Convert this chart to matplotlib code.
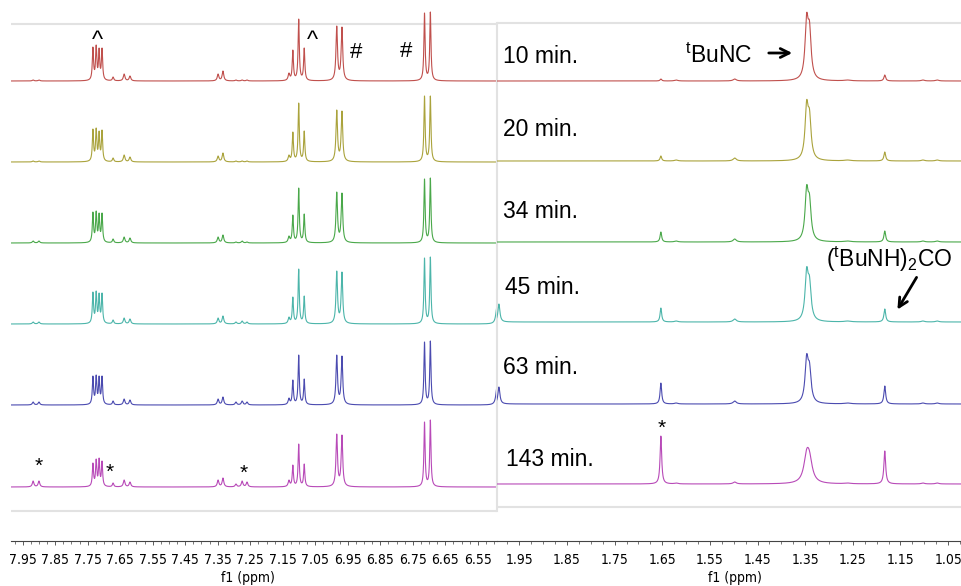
import numpy as np
import matplotlib
matplotlib.use("Agg")
import matplotlib.pyplot as plt
from matplotlib import font_manager as fm

# ---------------- data ----------------
times = ["10 min.", "20 min.", "34 min.", "45 min.", "63 min.", "143 min."]
colors = ["#c0504d", "#aaa33c", "#4aa84a", "#4cb5aa", "#4b4bb0", "#b84ab8"]

# left (aromatic) region: peak positions (ppm), half-widths (ppm)
left_pos = [7.918, 7.900, 7.734, 7.724, 7.715, 7.706, 7.672, 7.638, 7.620,
            7.349, 7.334, 7.294, 7.275, 7.260, 7.131, 7.119, 7.101, 7.084,
            6.984, 6.968, 6.714, 6.696, 6.491]
left_hw = [0.003, 0.003, 0.0022, 0.0022, 0.0022, 0.0022, 0.0025, 0.003, 0.003,
           0.003, 0.003, 0.003, 0.003, 0.003, 0.003, 0.0022, 0.0022, 0.0022,
           0.0028, 0.0028, 0.0022, 0.0022, 0.004]
# apparent peak heights (px) per spectrum
left_h_10 = [1, 1, 34, 36, 33, 33, 4, 7, 5, 7, 10, 1, 1, 1, 8, 31, 62, 33, 55, 54, 68, 69, 0]
left_h_20 = [1, 1, 33, 34, 31, 32, 4, 7, 5, 6, 9, 1, 1, 1, 7, 30, 59, 31, 52, 51, 66, 66, 0]
left_h_34 = [2, 2, 31, 32, 30, 30, 4, 6, 5, 6, 8, 1, 2, 1, 7, 28, 55, 29, 51, 50, 64, 65, 0]
left_h_45 = [2, 2, 32, 33, 31, 31, 4, 6, 5, 6, 8, 2, 3, 2, 7, 27, 55, 28, 53, 52, 66, 67, 19]
left_h_63 = [3, 3, 29, 30, 29, 29, 4, 6, 5, 6, 8, 3, 4, 3, 7, 25, 50, 26, 50, 49, 63, 64, 19]
left_h_143 = [6, 6, 24, 28, 29, 26, 4, 7, 5, 7, 9, 3, 6, 5, 7, 22, 43, 23, 53, 52, 65, 67, 0]
left_heights = [left_h_10, left_h_20, left_h_34, left_h_45, left_h_63, left_h_143]
left_baselines = [81, 162, 243, 324, 405, 487]

# right (aliphatic) region
right_pos = [1.993, 1.653, 1.621, 1.498, 1.347, 1.341, 1.261, 1.183, 1.103, 1.073]
right_hw = [0.0025, 0.002, 0.004, 0.004, 0.004, 0.004, 0.008, 0.0022, 0.004, 0.004]
right_h_10 = [0, 2, 1, 2, 68, 60, 1, 6, 1, 1]
right_h_20 = [0, 5, 1, 3, 61, 52, 1, 9, 1, 1]
right_h_34 = [0, 10, 1, 3, 57, 48, 1, 11, 1, 1]
right_h_45 = [18, 14, 1, 3, 55, 46, 1, 13, 1, 1]
right_h_63 = [17, 21, 1, 3, 50, 42, 1, 18, 1, 1]
right_h_143 = [0, 48, 1, 2, 35, 33, 1, 33, 1, 1]
right_heights = [right_h_10, right_h_20, right_h_34, right_h_45, right_h_63, right_h_143]
right_tbunc_hw = [0.004, 0.004, 0.004, 0.004, 0.004, 0.007]
right_baselines = [81, 161, 242, 322, 404, 484]

left_ticks = [7.95, 7.85, 7.75, 7.65, 7.55, 7.45, 7.35, 7.25, 7.15, 7.05, 6.95, 6.85, 6.75, 6.65, 6.55]
right_ticks = [1.95, 1.85, 1.75, 1.65, 1.55, 1.45, 1.35, 1.25, 1.15, 1.05]


# ---------------- fonts ----------------
sans = "Liberation Sans"
narrow_file = None
for f in fm.fontManager.ttflist:
    if ("Narrow" in f.name or "Condensed" in f.name or str(f.stretch) in ("condensed", "semi-condensed")) \
            and f.style == "normal" and f.weight in (400, "normal", "regular"):
        narrow_file = f.fname
        break
if narrow_file:
    tick_fp = fm.FontProperties(fname=narrow_file, size=10)
else:
    tick_fp = fm.FontProperties(family=sans, size=10)

plt.rcParams["mathtext.fontset"] = "custom"
plt.rcParams["mathtext.rm"] = sans
plt.rcParams["mathtext.it"] = sans


def spectrum(x, pos, hw, target):
    pos = np.asarray(pos, float)
    hw = np.asarray(hw, float)
    target = np.asarray(target, float)
    A = 1.0 / (1.0 + ((pos[:, None] - pos[None, :]) / hw[None, :]) ** 2)
    amps = np.clip(np.linalg.solve(A, target), 0, None)
    y = np.zeros_like(x)
    for p, w, a in zip(pos, hw, amps):
        y += a / (1.0 + ((x - p) / w) ** 2)
    return y


W, H = 961, 586
AXIS_Y = 541
fig = plt.figure(figsize=(W / 100, H / 100), dpi=100)
axL = fig.add_axes([11 / W, (H - AXIS_Y) / H, (497 - 11) / W, AXIS_Y / H])
axR = fig.add_axes([497 / W, (H - AXIS_Y) / H, (961 - 497) / W, AXIS_Y / H])

LXL = (7.986, 6.491)
RXL = (1.997, 1.023)

xl = np.linspace(LXL[0] + 0.01, LXL[1] - 0.01, 8000)
xr = np.linspace(RXL[0] + 0.01, RXL[1] - 0.01, 6000)

for i in range(6):
    yL = spectrum(xl, left_pos, left_hw, left_heights[i])
    axL.plot(xl, AXIS_Y - left_baselines[i] + yL, color=colors[i], lw=0.8)
    hw = list(right_hw)
    hw[4] = right_tbunc_hw[i]
    hw[5] = right_tbunc_hw[i]
    yR = spectrum(xr, right_pos, hw, right_heights[i])
    axR.plot(xr, AXIS_Y - right_baselines[i] + yR, color=colors[i], lw=0.8)

grey = "#e2e2e2"
for ax, xlim, top, bot, ticks in [(axL, LXL, 24, 511, left_ticks), (axR, RXL, 23, 507, right_ticks)]:
    ax.axhline(AXIS_Y - top, color=grey, lw=1.5, zorder=0)
    ax.axhline(AXIS_Y - bot, color=grey, lw=1.5, zorder=0)
    for s in ["top", "left", "right"]:
        ax.spines[s].set_visible(False)
    ax.spines["bottom"].set_color("#444444")
    ax.spines["bottom"].set_linewidth(0.8)
    ax.patch.set_alpha(0)
    ax.set_yticks([])
    ax.set_xticks(ticks)
    ax.set_xticklabels(["%.2f" % t for t in ticks], fontproperties=tick_fp)
    ax.set_xticks(np.arange(min(ticks) - 0.1, max(ticks) + 0.1, 0.025), minor=True)
    ax.tick_params(axis="x", which="major", direction="out", length=3, width=0.6, pad=6, color="#444444")
    ax.tick_params(axis="x", which="minor", direction="out", length=2, width=0.5, color="#444444")
    ax.set_xlim(*xlim)
    ax.set_ylim(0, AXIS_Y)

axR.plot([RXL[0], RXL[0]], [AXIS_Y - 511, AXIS_Y - 23], color=grey, lw=1.5, clip_on=False, zorder=0)


def T(x, y, s, **kw):
    fig.text(x / W, 1 - y / H, s, **kw)


T(248, 578, "f1 (ppm)", ha="center", va="center", fontproperties=tick_fp)
T(735, 578, "f1 (ppm)", ha="center", va="center", fontproperties=tick_fp)

time_xy = [(503, 63), (503, 136), (503, 218), (505, 294), (503, 374), (506, 466)]
for (x, y), s in zip(time_xy, times):
    T(x, y, s, ha="left", va="baseline", fontfamily=sans, fontsize=16.5)

T(685, 63, r"$^{\mathrm{t}}$BuNC", ha="left", va="baseline", fontfamily=sans, fontsize=16.5)
T(826, 267, r"($^{\mathrm{t}}$BuNH)$_{\mathrm{2}}$CO", ha="left", va="baseline", fontfamily=sans, fontsize=16.5)

axR.annotate("", xy=(795, H - 53), xytext=(766, H - 53), xycoords="figure pixels",
             textcoords="figure pixels", arrowprops=dict(arrowstyle="->", lw=2, color="black",
                                                         mutation_scale=16))
axR.annotate("", xy=(896, H - 312), xytext=(918, H - 275), xycoords="figure pixels",
             textcoords="figure pixels", arrowprops=dict(arrowstyle="->", lw=2, color="black",
                                                         mutation_scale=16))

for x, y in [(97, 47), (312, 47)]:
    T(x, y, "^", ha="center", va="baseline", fontfamily=sans, fontsize=17)
for x, y in [(356, 58), (406, 57)]:
    T(x, y, "#", ha="center", va="baseline", fontfamily=sans, fontsize=16)
for x, y in [(39, 472), (110, 478), (244, 479), (662, 434)]:
    T(x, y, "*", ha="center", va="baseline", fontfamily=sans, fontsize=15)

fig.savefig("out.png", dpi=100)
